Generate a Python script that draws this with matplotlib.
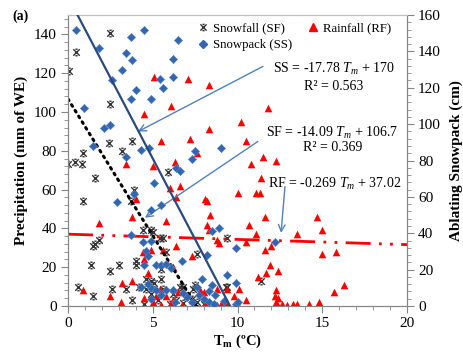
import numpy as np
import matplotlib
matplotlib.use('Agg')
import matplotlib.pyplot as plt
from matplotlib.lines import Line2D
from matplotlib.path import Path
from matplotlib.ticker import MultipleLocator

plt.rcParams['font.family'] = ['Liberation Serif', 'DejaVu Serif']
plt.rcParams['mathtext.fontset'] = 'custom'
plt.rcParams['mathtext.rm'] = 'Liberation Serif'
plt.rcParams['mathtext.it'] = 'Liberation Serif:italic'
plt.rcParams['mathtext.bf'] = 'Liberation Serif:bold'

# Snowfall (SF): mean temperature vs precipitation (mm of WE)
sf_t = [0.06, 0.5, 2.5, 2.5, 2.4, 3.2, 3.8, 0.0, 0.4, 0.8, 0.9, 1.6, 5.9, 0.9, 3.9,
        3.7, 4.4, 4.9, 5.0, 5.4, 5.6, 5.8, 1.5, 1.6, 1.8, 1.35, 2.5, 3.0, 4.0, 4.0,
        0.6, 1.5, 2.6, 3.4, 3.8, 4.2, 4.6, 4.9, 5.1, 5.5, 5.5, 6.6, 6.8, 7.4, 7.6,
        7.6, 9.4, 9.4, 11.4, 4.6, 4.9, 5.6, 6.2, 6.4, 5.3, 6.0, 7.0, 7.5, 6.8, 7.3,
        8.0, 4.5, 9.3]
sf_p = [121, 131, 140.5, 104, 84, 80, 85, 73, 74, 73, 79, 66, 69, 54, 60,
        54, 39, 39, 38, 35, 35, 28, 31, 32, 34, 21, 18, 21, 23, 21,
        10, 5, 9, 9, 3, 10, 14, 13, 12, 14, 19, 10, 1.5, 9, 2,
        27, 10, 35, 13, 9, 6, 9, 6, 3, 3, 1, 5, 11, 10, 3.6,
        1, 1, 10]

# Rainfall (RF)
rf_t = [5.06, 7.1, 8.3, 6.1, 11.8, 4.5, 10.2, 8.3, 7.2, 5.5, 10.5, 7.6, 11.5, 12.3,
        3.4, 5.0, 6.3, 10.8, 11.4, 6.0, 6.6, 11.1, 11.3, 10.0, 8.1, 6.4, 4.0, 8.2,
        8.4, 8.2, 8.3, 10.7, 11.6, 11.1, 10.5, 11.6, 12.0, 8.9, 8.8, 1.8, 3.8, 5.8,
        4.5, 4.7, 3.2, 3.8, 0.9, 2.5, 3.1, 5.5, 5.8, 6.2, 6.5, 4.5, 4.4, 6.0, 7.3,
        11.9, 12.4, 11.7, 11.2, 10.1, 12.3, 12.2, 9.4, 8.8, 8.0, 8.8, 6.2, 8.1,
        10.5, 9.8, 13.5, 14.7, 15.0, 15.0, 15.8, 16.3, 15.7, 12.6, 12.9, 13.3,
        13.5, 14.2, 14.8, 12.4, 12.3, 5.0, 5.2, 6.7, 7.3, 9.0, 10.0, 7.8, 9.3,
        5.4, 6.2, 4.9, 6.4, 5.6]
rf_p = [118, 117, 114, 103, 102, 99, 95, 91, 86, 85, 85, 79, 77, 75,
        73, 72, 74, 73, 66, 61, 62, 58, 58, 58, 55, 56, 55, 54,
        47, 42, 39, 42, 46, 37, 33, 29, 31, 32.5, 34, 43, 46, 44,
        24, 17, 12, 13, 8, 5, 2, 0.3, 5, 3, 7, 4, 28, 0.5, 26,
        21, 18, 17, 15, 9, 8, 5, 9, 9, 7, 0.5, 0.5, 1.5,
        3, 5, 37, 46, 39, 27, 28, 11, 7, 1, 0.5, 1,
        1, 1, 2, 4, 2, 2, 5, 0.5, 3, 1, 0.5, 8, 2,
        9, 20, 29, 31, 29]

# Snowpack (SS): ablating snowpack (cm), right axis
ss_t = [0.47, 1.8, 2.6, 0.94, 2.1, 2.5, 1.5, 3.4, 3.2, 3.4, 3.8, 3.7, 4.5, 3.7, 4.0,
        4.9, 5.4, 5.6, 6.2, 6.2, 6.5, 4.3, 4.8, 6.4, 6.6, 7.3, 7.5, 9.0, 2.9, 4.9,
        5.5, 5.1, 3.9, 3.7, 4.4, 4.9, 4.6, 4.7, 4.5, 5.2, 5.5, 5.8, 6.1, 6.7, 8.2,
        8.5, 8.9, 9.4, 9.9, 9.9, 7.9, 7.6, 4.3, 4.9, 12.2, 8.5, 9.9, 6.2, 5.2, 5.8,
        4.9, 6.3, 5.5, 7.0, 7.3, 8.0, 8.3, 8.7, 9.2, 6.8, 4.7, 8.3, 10.0, 7.7, 8.6]
ss_s = [152, 142, 124, 109, 98, 99.5, 88, 82, 130, 139, 135, 148, 152, 114, 119,
        114, 125, 120, 126, 136, 146, 86, 87, 76, 74, 81, 85, 87, 57, 53,
        55.5, 67.5, 61.5, 39, 35, 36, 30, 27.5, 22.5, 22.5, 22.5, 23, 21, 25, 28,
        41, 43, 17, 32, 12.6, 15, 10.5, 10.5, 10, 35, 11.5, 1, 9, 9, 9,
        4, 2, 6, 5, 2, 4, 2, 6, 3, 7, 12, 8, 2, 6, 1]

# trendline coefficients (slope, intercept) as printed on the chart
ss_fit = (-17.78, 170)
sf_fit = (-14.09, 106.7)
rf_fit = (-0.269, 37.02)

blue = '#3366B0'
navy = '#2A4A7F'
arrow_col = '#4F81BD'
spine_col = '#868686'

# Excel-like star marker: an x with short caps top and bottom
star = Path([(-1, -1), (1, 1), (-1, 1), (1, -1), (-0.35, 1), (0.35, 1), (-0.35, -1), (0.35, -1)],
            [Path.MOVETO, Path.LINETO] * 4)

fig = plt.figure(figsize=(4.64, 3.53), dpi=100)
ax = fig.add_axes([68 / 464, 1 - 306 / 353, 339 / 464, 291 / 353])
ax2 = ax.twinx()

ax.scatter(sf_t, sf_p, marker=star, s=22, c='#333333', linewidths=1.0, zorder=3)
ax.scatter(rf_t, rf_p, marker='^', s=30, c='#FF0000', linewidths=0, zorder=3)
ax2.scatter(ss_t, ss_s, marker='D', s=18, c=blue, edgecolors='#5B86C5', linewidths=0.4, zorder=3)

# trendlines
t = np.linspace(0, -sf_fit[1] / sf_fit[0], 50)
ax.plot(t, sf_fit[0] * t + sf_fit[1], color='black', lw=2.2, linestyle=(0, (0.6, 1.6)),
        dash_capstyle='round', zorder=4)
t = np.linspace(0, 20, 50)
ax.plot(t, rf_fit[0] * t + rf_fit[1], color='#FF0000', lw=2, linestyle=(0, (9, 3, 1, 3, 1, 3)),
        zorder=4)
t = np.linspace((160 - ss_fit[1]) / ss_fit[0], -ss_fit[1] / ss_fit[0], 50)
ax2.plot(t, ss_fit[0] * t + ss_fit[1], color=navy, lw=1.6, zorder=4)

ax.set_xlim(0, 20)
ax.set_ylim(0, 150)
ax2.set_ylim(0, 160)
ax.xaxis.set_major_locator(MultipleLocator(5))
ax.xaxis.set_minor_locator(MultipleLocator(1))
ax.yaxis.set_major_locator(MultipleLocator(20))
ax.yaxis.set_minor_locator(MultipleLocator(4))
ax2.yaxis.set_major_locator(MultipleLocator(20))
ax2.yaxis.set_minor_locator(MultipleLocator(4))

for a in (ax, ax2):
    a.tick_params(which='major', length=5, width=0.8, color=spine_col, labelsize=11, pad=3)
    a.tick_params(which='minor', length=3, width=0.6, color=spine_col)
    for sp in a.spines.values():
        sp.set_color(spine_col)
        sp.set_linewidth(0.8)
ax.spines['top'].set_color('#C0C0C0')
ax2.spines['top'].set_color('#C0C0C0')

ax.set_xlabel(r'$\mathbf{T_m}$ (ºC)', fontsize=10.5, fontweight='bold', labelpad=2)
ax.set_ylabel('Precipitation (mm of WE)', fontsize=11, fontweight='bold', labelpad=4)
ax2.set_ylabel('Ablating Snowpack (cm)', fontsize=11, fontweight='bold', labelpad=6)

fig.text(12 / 464, 1 - 16 / 353, '(a)', fontsize=10, fontweight='bold', va='center')

# equations and arrows
ax.text(15.7, 122, r'SS = -17.78 $T_m$ + 170', fontsize=10, ha='center', va='center')
ax.text(15.7, 113, 'R² = 0.563', fontsize=10, ha='center', va='center')
ax.text(15.6, 89.4, r'SF = -14.09 $T_m$ + 106.7', fontsize=10, ha='center', va='center')
ax.text(15.6, 81.7, 'R² = 0.369', fontsize=10, ha='center', va='center')
ax.text(15.75, 63, r'RF = -0.269 $T_m$ + 37.02', fontsize=10, ha='center', va='center')

arr = dict(arrowstyle='->', color=arrow_col, lw=1.0, shrinkA=0, shrinkB=0, mutation_scale=12)
ax.annotate('', xy=(4.13, 89.9), xytext=(11.5, 123.5), arrowprops=arr, zorder=5)
ax.annotate('', xy=(4.54, 45.5), xytext=(11.2, 84.8), arrowprops=arr, zorder=5)
ax.annotate('', xy=(12.57, 37.7), xytext=(12.8, 61.5), arrowprops=arr, zorder=5)

handles = [
    Line2D([], [], marker=star, ls='none', color='#333333', markersize=4.5, mew=1.0),
    Line2D([], [], marker='D', ls='none', color=blue, markersize=4),
    Line2D([], [], marker='^', ls='none', color='#FF0000', markersize=5.5),
]
labels = ['Snowfall (SF)', 'Snowpack (SS)', 'Rainfall (RF)']
ax2.legend(handles, labels, ncol=2, loc='upper right', bbox_to_anchor=(0.975, 1.0),
           frameon=False, fontsize=9.2, handlelength=0.8, handletextpad=0.4,
           columnspacing=1.2, labelspacing=0.35, borderaxespad=0.2)

fig.savefig('out.png', dpi=100)
